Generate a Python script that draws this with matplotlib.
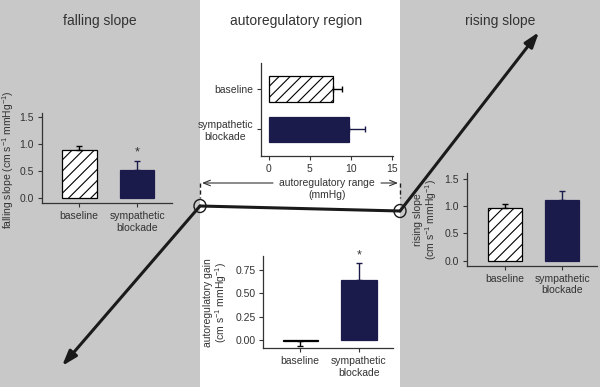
import matplotlib.pyplot as plt
from matplotlib.patches import Ellipse

plt.rcParams['font.family'] = ['Liberation Sans', 'DejaVu Sans']
plt.rcParams['mathtext.fontset'] = 'custom'
plt.rcParams['mathtext.rm'] = 'Liberation Sans'
plt.rcParams['mathtext.it'] = 'Liberation Sans:italic'
plt.rcParams['hatch.linewidth'] = 0.8

# data
groups = ['baseline', 'sympathetic\nblockade']
falling_mean = [0.89, 0.53]
falling_err = [0.07, 0.15]
range_mean = [7.8, 9.8]
range_err = [1.1, 1.9]
rising_mean = [0.97, 1.12]
rising_err = [0.07, 0.17]
gain_mean = [-0.01, 0.64]
gain_err = [-0.055, 0.18]   # negative = error drawn downward

# schematic pressure-flow curve (figure pixels)
curve_x = [62, 200, 400, 539]
curve_y = [366, 206, 211, 32]

GRAY = '#c8c8c8'
NAVY = '#1b1b4b'
TXT = '#333333'
W, H = 600, 387

fig = plt.figure(figsize=(6, 3.87), dpi=100)
bg = fig.add_axes([0, 0, 1, 1])
bg.set_xlim(0, W)
bg.set_ylim(H, 0)
bg.axis('off')
bg.axvspan(0, 200, color=GRAY, zorder=0, lw=0)
bg.axvspan(400, W, color=GRAY, zorder=0, lw=0)

bg.text(100, 21, 'falling slope', ha='center', va='center', fontsize=10, color=TXT)
bg.text(296, 21, 'autoregulatory region', ha='center', va='center', fontsize=10, color=TXT)
bg.text(500, 21, 'rising slope', ha='center', va='center', fontsize=10, color=TXT)

# curve
bg.plot(curve_x[1:3], curve_y[1:3], color='#1a1a1a', lw=2.2, solid_capstyle='round')
aprops = dict(arrowstyle='-|>, head_length=0.9, head_width=0.3', color='#1a1a1a',
              lw=2.2, shrinkA=0, shrinkB=0)
bg.annotate('', xy=(curve_x[0], curve_y[0]), xytext=(curve_x[1], curve_y[1]), arrowprops=aprops)
bg.annotate('', xy=(curve_x[3], curve_y[3]), xytext=(curve_x[2], curve_y[2]), arrowprops=aprops)
for cx, cy in zip(curve_x[1:3], curve_y[1:3]):
    bg.add_patch(Ellipse((cx, cy), 12, 13, fill=False, ec='#1a1a1a', lw=1.0, zorder=5))

# autoregulatory range marker
for xv in (200, 400):
    bg.plot([xv, xv], [183, 198], color='#1a1a1a', lw=1.0, ls=(0, (3, 2)))
rprops = dict(arrowstyle='->, head_length=0.5, head_width=0.2', color=TXT, lw=0.8,
              shrinkA=0, shrinkB=0)
bg.annotate('', xy=(202, 183), xytext=(273, 183), arrowprops=rprops)
bg.annotate('', xy=(398, 183), xytext=(381, 183), arrowprops=rprops)
bg.text(327, 183, 'autoregulatory range', ha='center', va='center', fontsize=7.5, color=TXT)
bg.text(327, 195, '(mmHg)', ha='center', va='center', fontsize=7.5, color=TXT)


def panel(x0, y0, x1, y1):
    ax = fig.add_axes([x0 / W, 1 - y1 / H, (x1 - x0) / W, (y1 - y0) / H])
    ax.set_facecolor('none')
    for s in ('top', 'right'):
        ax.spines[s].set_visible(False)
    for s in ('left', 'bottom'):
        ax.spines[s].set_color(TXT)
        ax.spines[s].set_linewidth(0.9)
    ax.tick_params(labelsize=7.5, colors=TXT, length=3, width=0.8, pad=2.5)
    return ax


def vbars(ax, means, errs):
    for i, (m, e) in enumerate(zip(means, errs)):
        if i == 0:
            ax.bar(i, m, width=0.6, color='white', edgecolor='black', hatch='///', lw=0.9)
            ec = 'black'
        else:
            ax.bar(i, m, width=0.6, color=NAVY, edgecolor=NAVY, lw=0.9)
            ec = NAVY
        yerr = [[-e], [0]] if e < 0 else [[0], [e]]
        ax.errorbar(i, m, yerr=yerr, fmt='none', ecolor=ec, elinewidth=1, capsize=2.5, capthick=1)
    ax.set_xticks([0, 1])
    ax.set_xticklabels(groups)


# falling slope
ax1 = panel(41.7, 113, 171.7, 203.3)
vbars(ax1, falling_mean, falling_err)
ax1.set_xlim(-0.65, 1.6)
ax1.set_ylim(-0.09, 1.57)
ax1.set_yticks([0, 0.5, 1.0, 1.5])
ax1.set_yticklabels(['0.0', '0.5', '1.0', '1.5'])
ax1.set_ylabel('falling slope (cm s$^{-1}$ mmHg$^{-1}$)', fontsize=7.5, color=TXT)
ax1.yaxis.set_label_coords(-0.195, 0.48)
ax1.text(1, falling_mean[1] + falling_err[1] + 0.05, '*', ha='center', va='bottom', fontsize=9, color=TXT)

# autoregulatory range
ax2 = panel(260.7, 63.3, 393, 156)
ax2.barh(1, range_mean[0], height=0.63, color='white', edgecolor='black', hatch='///', lw=0.9)
ax2.barh(0, range_mean[1], height=0.63, color=NAVY, edgecolor=NAVY, lw=0.9)
ax2.errorbar(range_mean[0], 1, xerr=[[0], [range_err[0]]], fmt='none', ecolor='black',
             elinewidth=1, capsize=2.5, capthick=1)
ax2.errorbar(range_mean[1], 0, xerr=[[0], [range_err[1]]], fmt='none', ecolor=NAVY,
             elinewidth=1, capsize=2.5, capthick=1)
ax2.set_xlim(-1.0, 15.16)
ax2.set_ylim(-0.66, 1.63)
ax2.set_xticks([0, 5, 10, 15])
ax2.set_yticks([1, 0])
ax2.set_yticklabels(groups)
for t in ax2.get_yticklabels():
    t.set_multialignment('center')

# rising slope
ax3 = panel(466.7, 173.3, 597, 266)
vbars(ax3, rising_mean, rising_err)
ax3.set_xlim(-0.67, 1.61)
ax3.set_ylim(-0.1, 1.61)
ax3.set_yticks([0, 0.5, 1.0, 1.5])
ax3.set_yticklabels(['0.0', '0.5', '1.0', '1.5'])
ax3.set_ylabel('rising slope\n(cm s$^{-1}$ mmHg$^{-1}$)', fontsize=7.5, color=TXT, linespacing=0.95)
ax3.yaxis.set_label_coords(-0.215, 0.5)

# autoregulatory gain
ax4 = panel(263.3, 256, 393, 348.3)
vbars(ax4, gain_mean, gain_err)
ax4.set_xlim(-0.63, 1.58)
ax4.set_ylim(-0.089, 0.9)
ax4.set_yticks([0, 0.25, 0.5, 0.75])
ax4.set_yticklabels(['0.00', '0.25', '0.50', '0.75'])
ax4.set_ylabel('autoregulatory gain\n(cm s$^{-1}$ mmHg$^{-1}$)', fontsize=7.5, color=TXT, linespacing=1.05)
ax4.yaxis.set_label_coords(-0.265, 0.5)
ax4.text(1, gain_mean[1] + gain_err[1] + 0.02, '*', ha='center', va='bottom', fontsize=9, color=TXT)

fig.savefig('out.png', dpi=100)
